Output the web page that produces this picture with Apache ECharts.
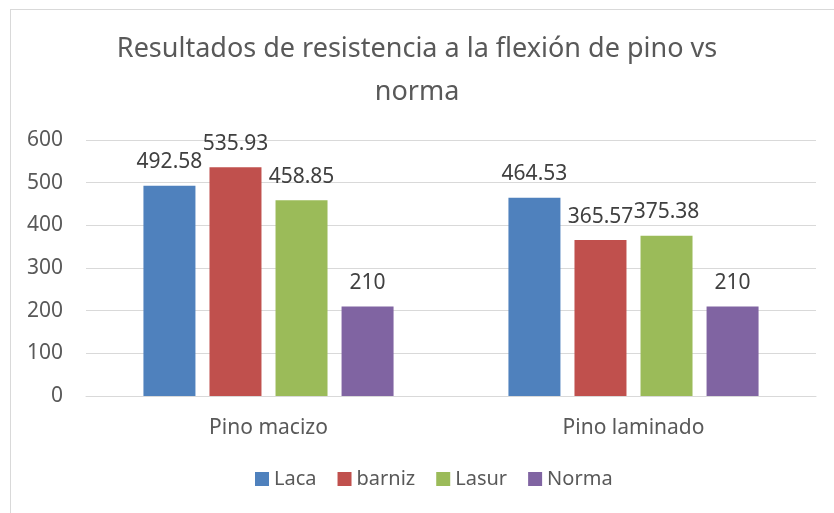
<!DOCTYPE html>
<html>
<head>
<meta charset="utf-8">
<script src="https://cdn.jsdelivr.net/npm/echarts@6/dist/echarts.min.js"></script>
<style>
  html, body { margin: 0; padding: 0; background: #fff; }
  #main { width: 834px; height: 513px; }
  .frame { position: absolute; left: 10px; top: 9px; width: 840px; height: 520px; border: 1px solid #d9d9d9; box-sizing: border-box; pointer-events: none; }
</style>
</head>
<body>
<div id="main"></div>
<div class="frame"></div>
<script>
var categories = ['Pino macizo', 'Pino laminado'];
var laca = [492.58, 464.53];
var barniz = [535.93, 365.57];
var lasur = [458.85, 375.38];
var norma = [210, 210];
var seriesNames = ['Laca', 'barniz', 'Lasur', 'Norma'];
var colors = ['#4f81bd', '#c0504d', '#9bbb59', '#8064a2'];

var font = 'Noto Sans';
var chart = echarts.init(document.getElementById('main'));

function makeSeries(name, data) {
  return {
    name: name,
    type: 'bar',
    data: data,
    barWidth: 52,
    barGap: '27%',
    label: {
      show: true,
      position: 'top',
      distance: 13,
      color: '#404040',
      fontFamily: font,
      fontSize: 21
    }
  };
}

chart.setOption({
  color: colors,
  animation: false,
  title: {
    text: 'Resultados de resistencia a la flexión de pino vs\nnorma',
    left: 'center',
    top: 23,
    textStyle: {
      color: '#595959',
      fontFamily: font,
      fontWeight: 'normal',
      fontSize: 27,
      lineHeight: 43
    }
  },
  legend: {
    data: seriesNames,
    bottom: 19,
    left: 250,
    icon: 'rect',
    itemWidth: 14,
    itemHeight: 14,
    itemGap: 21,
    textStyle: { color: '#595959', fontFamily: font, fontSize: 20 }
  },
  grid: { left: 86, right: 18, top: 140, bottom: 117 },
  xAxis: {
    type: 'category',
    data: categories,
    axisTick: { show: false },
    axisLine: { lineStyle: { color: '#d9d9d9' } },
    axisLabel: { color: '#595959', fontFamily: font, fontSize: 21, margin: 22 }
  },
  yAxis: {
    type: 'value',
    min: 0,
    max: 600,
    interval: 100,
    axisLine: { show: false },
    axisTick: { show: false },
    splitLine: { lineStyle: { color: '#d9d9d9' } },
    axisLabel: { color: '#595959', fontFamily: font, fontSize: 21, margin: 23 }
  },
  series: [
    makeSeries(seriesNames[0], laca),
    makeSeries(seriesNames[1], barniz),
    makeSeries(seriesNames[2], lasur),
    makeSeries(seriesNames[3], norma)
  ]
});
</script>
</body>
</html>
